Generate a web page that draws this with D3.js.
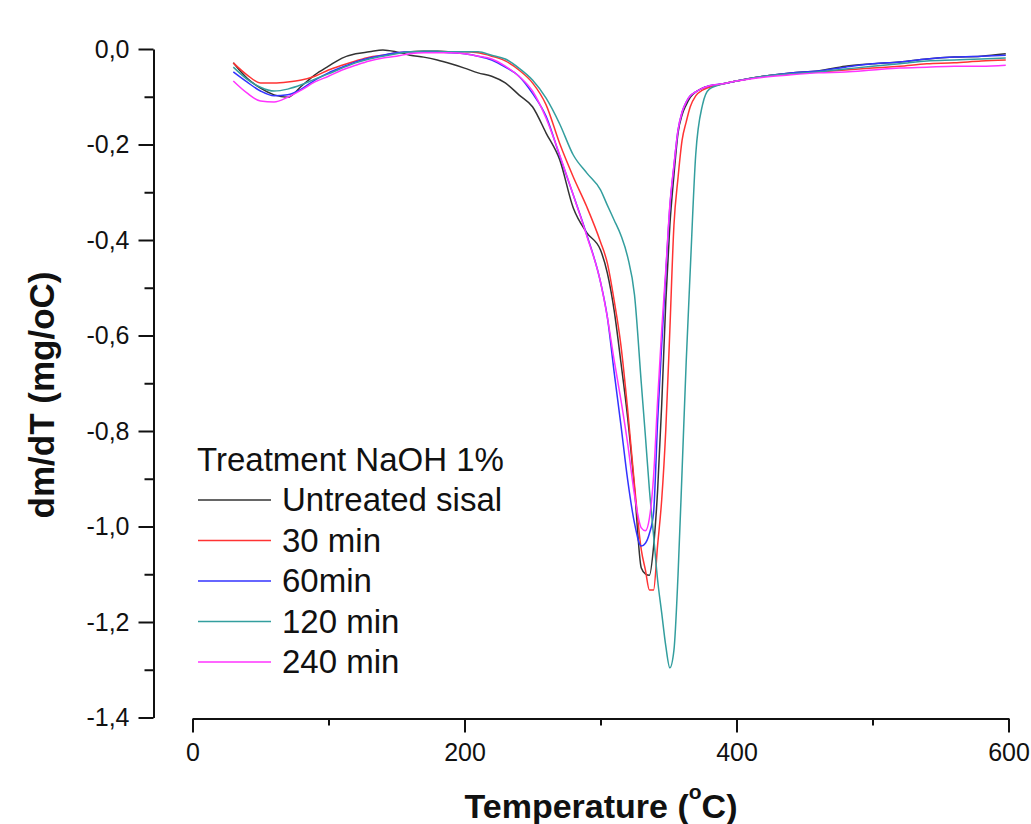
<!DOCTYPE html>
<html>
<head>
<meta charset="utf-8">
<script src="https://cdn.jsdelivr.net/npm/d3@7"></script>
<style>
  html, body { margin: 0; padding: 0; background: #fff; }
  text { font-family: "Liberation Sans", Arial, sans-serif; fill: #111; }
</style>
</head>
<body>
<div id="chart"></div>
<script>
// Temperature grid (°C), denser around the decomposition peak
const temps = [30, 40, 50, 60, 70, 80, 90, 100, 110, 120, 130, 140, 150, 160, 170, 180, 190, 200,
  210, 220, 230, 240, 250, 260, 270, 280, 290, 300, 305, 310, 315, 320, 325, 330,
  333, 336, 339, 342, 345, 348, 351, 354, 357, 360, 363, 366, 370, 375, 380, 390, 400,
  420, 440, 460, 480, 500, 520, 540, 560, 580, 598];

// dm/dT values (mg/°C)
const untreated = [-0.029, -0.061, -0.082, -0.096, -0.101, -0.078, -0.054, -0.036, -0.019, -0.010,
  -0.006, -0.002, -0.006, -0.013, -0.017, -0.023, -0.031, -0.040, -0.050, -0.057, -0.071, -0.096,
  -0.121, -0.176, -0.232, -0.333, -0.385, -0.421, -0.469, -0.547, -0.656, -0.773, -0.921, -1.087,
  -1.099, -1.102, -1.043, -0.924, -0.745, -0.530, -0.369, -0.264, -0.176, -0.138, -0.117, -0.101,
  -0.090, -0.082, -0.078, -0.073, -0.067, -0.057, -0.050, -0.046, -0.036, -0.031, -0.027, -0.021,
  -0.017, -0.015, -0.010];
const min30 = [-0.029, -0.054, -0.071, -0.071, -0.069, -0.065, -0.057, -0.044, -0.034, -0.025,
  -0.017, -0.013, -0.008, -0.006, -0.004, -0.004, -0.006, -0.006, -0.008, -0.015, -0.025, -0.044,
  -0.071, -0.117, -0.198, -0.268, -0.331, -0.404, -0.448, -0.526, -0.620, -0.756, -0.913, -1.049,
  -1.091, -1.133, -1.133, -1.039, -0.944, -0.798, -0.588, -0.369, -0.270, -0.191, -0.153, -0.121,
  -0.098, -0.086, -0.080, -0.073, -0.067, -0.057, -0.052, -0.048, -0.044, -0.040, -0.036, -0.031,
  -0.029, -0.025, -0.023];
const min60 = [-0.048, -0.069, -0.088, -0.098, -0.096, -0.084, -0.065, -0.050, -0.038, -0.027,
  -0.019, -0.013, -0.008, -0.006, -0.006, -0.006, -0.008, -0.010, -0.015, -0.023, -0.038, -0.057,
  -0.093, -0.141, -0.224, -0.306, -0.390, -0.488, -0.561, -0.676, -0.787, -0.903, -0.993, -1.041,
  -1.035, -1.014, -0.972, -0.780, -0.620, -0.470, -0.331, -0.245, -0.170, -0.132, -0.111, -0.098,
  -0.090, -0.082, -0.077, -0.073, -0.067, -0.057, -0.050, -0.046, -0.038, -0.031, -0.027, -0.021,
  -0.017, -0.015, -0.013];
const min120 = [-0.038, -0.063, -0.080, -0.088, -0.084, -0.075, -0.063, -0.052, -0.040, -0.029,
  -0.021, -0.015, -0.010, -0.006, -0.004, -0.004, -0.006, -0.006, -0.006, -0.013, -0.021, -0.040,
  -0.065, -0.103, -0.157, -0.222, -0.260, -0.295, -0.327, -0.358, -0.390, -0.436, -0.515, -0.700,
  -0.810, -0.924, -1.018, -1.112, -1.181, -1.250, -1.296, -1.259, -1.102, -0.882, -0.656, -0.463,
  -0.222, -0.117, -0.084, -0.073, -0.067, -0.057, -0.052, -0.048, -0.042, -0.036, -0.031, -0.025,
  -0.023, -0.021, -0.019];
const min240 = [-0.067, -0.092, -0.109, -0.111, -0.101, -0.086, -0.069, -0.057, -0.044, -0.034,
  -0.025, -0.019, -0.015, -0.010, -0.008, -0.008, -0.008, -0.010, -0.015, -0.021, -0.036, -0.057,
  -0.088, -0.145, -0.222, -0.306, -0.392, -0.488, -0.561, -0.651, -0.735, -0.827, -0.934, -1.003,
  -1.009, -0.982, -0.896, -0.735, -0.588, -0.463, -0.327, -0.243, -0.170, -0.132, -0.111, -0.098,
  -0.090, -0.082, -0.077, -0.073, -0.067, -0.059, -0.054, -0.050, -0.048, -0.044, -0.040, -0.038,
  -0.036, -0.036, -0.034];

const seriesNames = ['Untreated sisal', '30 min', '60min', '120 min', '240 min'];
const seriesValues = [untreated, min30, min60, min120, min240];
const seriesColors = ['#333333', '#ff3333', '#3333ff', '#339e9e', '#ff33ff'];

const legendTitle = 'Treatment NaOH 1%';
const xTicks = [0, 200, 400, 600];
const xMinor = [100, 300, 500];
const yTicks = [0, -0.2, -0.4, -0.6, -0.8, -1.0, -1.2, -1.4];
const yMinor = [-0.1, -0.3, -0.5, -0.7, -0.9, -1.1, -1.3];

const width = 1031, height = 824;

const svg = d3.select('#chart').append('svg')
    .attr('width', width)
    .attr('height', height);

svg.append('rect').attr('width', width).attr('height', height).attr('fill', '#fff');

// scales
const x = d3.scaleLinear().domain([0, 600]).range([192.5, 1008.5]);
const y = d3.scaleLinear().domain([-1.4, 0]).range([717.5, 49]);

// comma decimal, plain hyphen minus
const locale = d3.formatLocale({decimal: ',', thousands: '.', grouping: [3], currency: ['', ''], minus: '-'});
const fmtY = locale.format('.1f');

// y axis
const yAxis = svg.append('g')
    .attr('transform', 'translate(153.5,0)')
    .call(d3.axisLeft(y).tickValues(yTicks).tickFormat(fmtY).tickSize(15).tickSizeOuter(0).tickPadding(9));
svg.append('g')
    .attr('transform', 'translate(153.5,0)')
    .call(d3.axisLeft(y).tickValues(yMinor).tickFormat('').tickSize(9).tickSizeOuter(0))
    .select('.domain').remove();

// x axis
const xAxis = svg.append('g')
    .attr('transform', 'translate(0,718.5)')
    .call(d3.axisBottom(x).tickValues(xTicks).tickFormat(d3.format('d')).tickSize(14).tickSizeOuter(0).tickPadding(11));
svg.append('g')
    .attr('transform', 'translate(0,718.5)')
    .call(d3.axisBottom(x).tickValues(xMinor).tickFormat('').tickSize(7).tickSizeOuter(0))
    .select('.domain').remove();

svg.selectAll('.domain, .tick line').attr('stroke', '#111').attr('stroke-width', 2);
yAxis.selectAll('.tick text')
    .attr('font-family', '"Liberation Sans", Arial, sans-serif')
    .attr('font-size', 25).attr('fill', '#111');
xAxis.selectAll('.tick text')
    .attr('font-family', '"Liberation Sans", Arial, sans-serif')
    .attr('font-size', 25).attr('fill', '#111');

// axis titles
svg.append('text')
    .attr('transform', 'translate(54,395) rotate(-90)')
    .attr('text-anchor', 'middle')
    .attr('font-size', 35)
    .attr('font-weight', 'bold')
    .text('dm/dT (mg/oC)');

const xt = svg.append('text')
    .attr('x', 601).attr('y', 818)
    .attr('text-anchor', 'middle')
    .attr('font-size', 34)
    .attr('font-weight', 'bold');
xt.append('tspan').text('Temperature (');
xt.append('tspan').attr('font-size', 21).attr('dy', -19).text('o');
xt.append('tspan').attr('dy', 19).text('C)');

// curves
const line = d3.line()
    .x((d, i) => x(temps[i]))
    .y(d => y(d))
    .curve(d3.curveMonotoneX);

svg.append('g')
    .selectAll('path')
    .data(seriesValues)
    .join('path')
    .attr('d', d => line(d))
    .attr('fill', 'none')
    .attr('stroke', (d, i) => seriesColors[i])
    .attr('stroke-width', 1.5)
    .attr('stroke-linejoin', 'round');

// legend
const legend = svg.append('g');
legend.append('text')
    .attr('x', 197).attr('y', 471)
    .attr('font-size', 33)
    .text(legendTitle);

const item = legend.selectAll('.item')
    .data(seriesNames)
    .join('g')
    .attr('class', 'item')
    .attr('transform', (d, i) => `translate(0,${500 + i * 40.5})`);
item.append('line')
    .attr('x1', 198).attr('x2', 271)
    .attr('stroke', (d, i) => seriesColors[i])
    .attr('stroke-width', 1.5);
item.append('text')
    .attr('x', 282).attr('y', 11)
    .attr('font-size', 33)
    .text(d => d);
</script>
</body>
</html>
